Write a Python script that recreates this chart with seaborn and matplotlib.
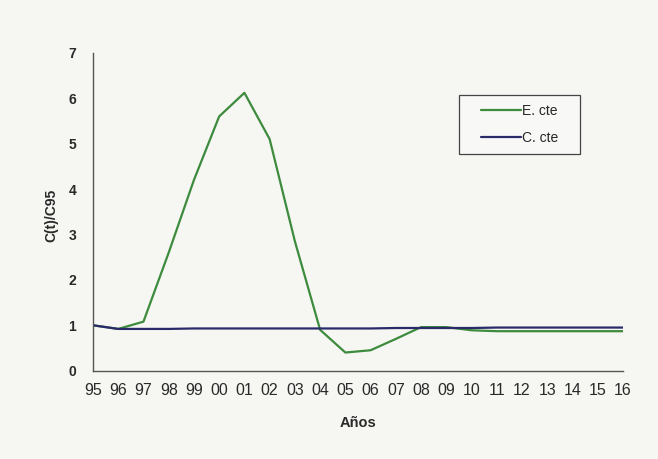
import numpy as np
import pandas as pd
import matplotlib
matplotlib.use("Agg")
import matplotlib.pyplot as plt
from matplotlib.patches import Rectangle
import seaborn as sns

# ============================================================
# DATA
# ============================================================
years = ['95', '96', '97', '98', '99', '00', '01', '02', '03', '04', '05',
         '06', '07', '08', '09', '10', '11', '12', '13', '14', '15', '16']
e_cte = [1.00, 0.92, 1.08, 2.60, 4.20, 5.60, 6.12, 5.10, 2.85, 0.90, 0.40,
         0.45, 0.70, 0.96, 0.96, 0.89, 0.87, 0.87, 0.87, 0.87, 0.87, 0.87]
c_cte = [1.00, 0.92, 0.92, 0.92, 0.93, 0.93, 0.93, 0.93, 0.93, 0.93, 0.93,
         0.93, 0.94, 0.94, 0.94, 0.94, 0.95, 0.95, 0.95, 0.95, 0.95, 0.95]
series_names = ['E. cte', 'C. cte']
colors = {'E. cte': '#3d8b3d', 'C. cte': '#2a2a6a'}

df = pd.DataFrame({
    'idx': list(range(len(years))) * 2,
    'value': e_cte + c_cte,
    'serie': [series_names[0]] * len(years) + [series_names[1]] * len(years),
})

sns.set_style('white')
plt.rcParams['font.family'] = ['Liberation Sans', 'DejaVu Sans']

fig = plt.figure(figsize=(6.58, 4.59), dpi=100)
fig.patch.set_facecolor('#f6f6f3')
ax = fig.add_axes([0.1413, 0.1924, 0.8055, 0.6924])
ax.set_facecolor('#f6f6f3')

sns.lineplot(data=df, x='idx', y='value', hue='serie', palette=colors,
             hue_order=series_names, linewidth=1.6, ax=ax, legend=False)

ax.set_xlim(0, len(years) - 1)
ax.set_ylim(0, 7)
ax.set_xticks(range(len(years)))
ax.set_xticklabels(years)
ax.set_yticks(range(0, 8))

for side in ['top', 'right']:
    ax.spines[side].set_visible(False)
for side in ['left', 'bottom']:
    ax.spines[side].set_color('#555555')
    ax.spines[side].set_linewidth(1.0)

ax.tick_params(axis='both', direction='inout', length=8, width=0.9,
               color='#555555', labelcolor='#2a2a2a')
ax.tick_params(axis='x', labelsize=11.5, pad=5)
ax.tick_params(axis='y', labelsize=10, pad=8)
for lab in ax.get_yticklabels():
    lab.set_fontweight('bold')

ax.set_xlabel('Años', fontsize=10.5, fontweight='bold', color='#2a2a2a',
              va='center')
ax.xaxis.set_label_coords(0.5, -0.164)
ax.set_ylabel('C(t)/C95', fontsize=10, fontweight='bold', color='#2a2a2a',
              va='center')
ax.yaxis.set_label_coords(-0.079, 0.49)

# legend box drawn as a plain rectangle, legend entries centred inside it
ax.add_patch(Rectangle((0.6906, 0.681), 0.2283, 0.186, transform=ax.transAxes,
                       facecolor='#f8f8f6', edgecolor='#444444', linewidth=0.9,
                       zorder=4, clip_on=False))
handles = [plt.Line2D([], [], color=colors[n], linewidth=1.6) for n in series_names]
leg = ax.legend(handles, series_names, loc='center', bbox_to_anchor=(0.8047, 0.774),
                fontsize=10, frameon=False, handlelength=2.9,
                handletextpad=0.05, borderpad=0.2, labelspacing=0.95)
leg.set_zorder(5)

fig.savefig('out.png', dpi=100, facecolor=fig.get_facecolor())
